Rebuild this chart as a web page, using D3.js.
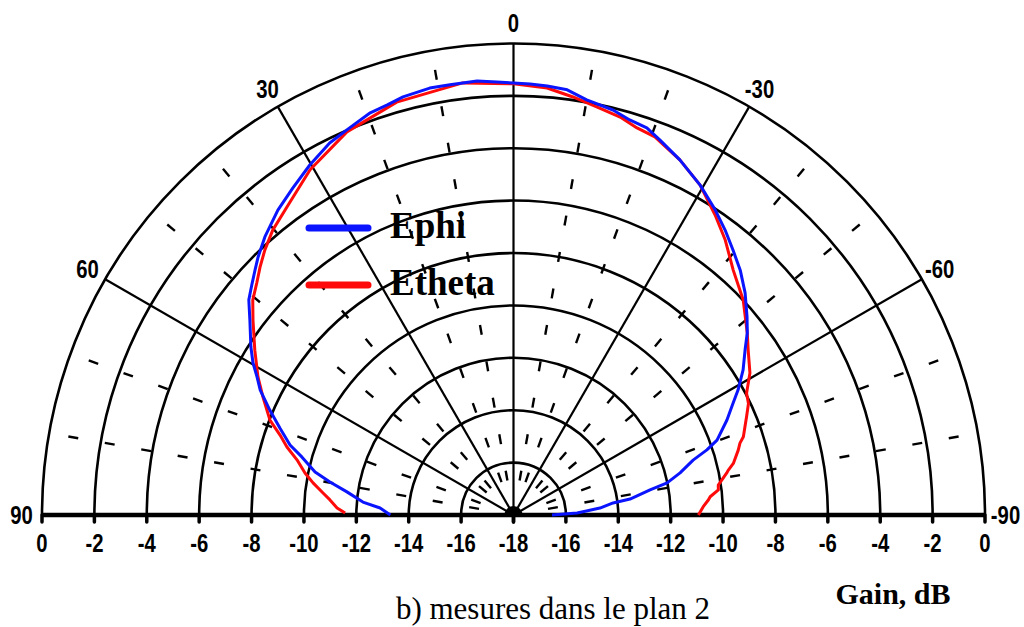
<!DOCTYPE html>
<html>
<head>
<meta charset="utf-8">
<script src="https://cdn.jsdelivr.net/npm/d3@7"></script>
<style>
  body { margin: 0; background: #fff; }
  svg { display: block; }
</style>
</head>
<body>
<svg id="chart" width="1024" height="627"></svg>
<script>
// Gain rings (dB) and radial tick labels
const ringLevels = [-16, -14, -12, -10, -8, -6, -4, -2, 0];
const gainTicks = [0, -2, -4, -6, -8, -10, -12, -14, -16, -18];
// Spokes and their angle labels (degrees, positive to the left)
const spokeAngles = [90, 60, 30, 0, -30, -60, -90];
const spokeLabels = ["90", "60", "30", "0", "-30", "-60", "-90"];
// Minor angle marks (degrees)
const minorAngles = [80, 70, 50, 40, 20, 10, -10, -20, -40, -50, -70, -80];

// Ephi measurement: angle (deg) and gain (dB)
const ephiAngle = [90, 87.0, 85.1, 82.1, 79.8, 77.8, 74.7, 72.6, 69.6, 66.7, 63.7, 61.7, 59.7, 57.4,
  53.5, 50.9, 48.7, 46.5, 44.7, 41.8, 37.7, 34.0, 30.2, 26.3, 23.4, 19.6, 17.1, 14.8, 11.1, 8.4,
  4.8, 2.2, 0, -2.2, -4.5, -7.2, -10.0, -13.8, -16.4, -19.0, -21.3, -25.1, -29.5, -33.5, -36.6,
  -39.6, -42.8, -46.2, -49.7, -52.1, -54.5, -57.7, -60.9, -63.0, -66.0, -69.8, -71.4, -73.0,
  -75.8, -78.2, -79.6, -82.2, -83.1, -85.4, -88.2, -90];
const ephiGain = [-13.3, -12.9, -12.23, -11.58, -10.88, -10.25, -9.63, -9.06, -8.49, -7.87, -7.21, -6.88, -6.48, -6.10,
  -5.48, -4.98, -4.70, -4.40, -4.14, -3.76, -3.29, -2.94, -2.54, -2.16, -1.98, -1.70, -1.62, -1.49, -1.39, -1.40,
  -1.37, -1.46, -1.51, -1.53, -1.57, -1.64, -1.91, -2.08, -2.28, -2.37, -2.63, -3.03, -3.53, -4.04, -4.45,
  -4.86, -5.26, -5.75, -6.31, -6.69, -7.14, -7.63, -8.19, -8.59, -9.08, -9.72, -10.21, -10.83,
  -11.44, -12.01, -12.70, -13.51, -14.17, -14.69, -15.57, -16.53];

// Etheta measurement: angle (deg) and gain (dB)
const ethetaAngle = [89.3, 87.7, 85.3, 83.4, 80.9, 78.6, 75.7, 73.3, 71.1, 68.7, 64.8, 61.6, 57.5, 53.2,
  50.5, 47.9, 45.6, 43.2, 40.2, 36.3, 30.5, 23.5, 15.8, 6.7, 0, -4.5, -8.1, -11.6, -15.0, -17.7,
  -20.5, -25.1, -29.5, -33.9, -37.6, -41.9, -46.9, -52.1, -54.9, -59.0, -62.4, -64.6, -67.1, -69.1,
  -71.2, -72.4, -73.9, -76.8, -78.2, -78.9, -81.7, -83.0, -84.7, -85.6, -87.5, -90];
const ethetaGain = [-11.57, -11.26, -10.97, -10.68, -10.25, -9.88, -9.47, -8.97, -8.58, -8.02, -7.43, -6.91, -6.29, -5.58,
  -5.10, -4.79, -4.46, -4.13, -3.76, -3.40, -2.70, -2.05, -1.62, -1.39, -1.54, -1.65, -1.88, -2.10, -2.27, -2.49,
  -2.59, -3.03, -3.53, -4.20, -4.75, -5.44, -5.99, -6.69, -7.05, -7.47, -7.96, -8.07, -8.34, -8.54,
  -8.73, -8.93, -9.07, -9.38, -9.62, -9.71, -10.10, -10.12, -10.46, -10.54, -10.75, -10.94];

const seriesNames = ["Ephi", "Etheta"];
const seriesColors = ["#0a14ff", "#ff0a0a"];

// ---- layout ----
const svg = d3.select("#chart");
const cx = 513.5, cy = 515, R = 471.5;
const rScale = d3.scaleLinear().domain([-18, 0]).range([0, R]);
const toRad = d => -d * Math.PI / 180;   // positive angles open to the left
const px = (deg, r) => cx + r * Math.sin(toRad(deg));
const py = (deg, r) => cy - r * Math.cos(toRad(deg));

const sans = "'Liberation Sans', Arimo, Arial, sans-serif";
const serif = "'Liberation Serif', 'Times New Roman', serif";

const grid = svg.append("g");

// minor angle marks
const markRadii = d3.range(12).map(k => R - 24.5 - 37 * k);
minorAngles.forEach(a => {
  markRadii.forEach(r => {
    grid.append("line")
      .attr("x1", px(a, r - 5)).attr("y1", py(a, r - 5))
      .attr("x2", px(a, r + 5)).attr("y2", py(a, r + 5))
      .attr("stroke", "#000").attr("stroke-width", 2.4);
  });
});

// gain rings
ringLevels.forEach(g => {
  const p = d3.path();
  p.arc(cx, cy, rScale(g), Math.PI, 2 * Math.PI);
  grid.append("path").attr("d", p.toString())
    .attr("fill", "none").attr("stroke", "#000").attr("stroke-width", 2.6);
});

// spokes
spokeAngles.filter(a => Math.abs(a) !== 90).forEach(a => {
  grid.append("line")
    .attr("x1", cx).attr("y1", cy)
    .attr("x2", px(a, R)).attr("y2", py(a, R))
    .attr("stroke", "#000").attr("stroke-width", 2.2);
});

// baseline (+90 .. -90)
grid.append("line")
  .attr("x1", cx - R).attr("y1", cy).attr("x2", cx + R).attr("y2", cy)
  .attr("stroke", "#000").attr("stroke-width", 4.5);

// ticks under baseline on both sides
gainTicks.forEach(g => {
  [-1, 1].forEach(s => {
    const x = cx + s * rScale(g);
    grid.append("line")
      .attr("x1", x).attr("y1", cy).attr("x2", x).attr("y2", cy + 7)
      .attr("stroke", "#000").attr("stroke-width", 3.5).attr("stroke-linecap", "round");
  });
});

// centre hub
const hub = d3.path();
hub.moveTo(cx - 9, cy);
hub.arc(cx, cy, 9, Math.PI, 2 * Math.PI);
hub.closePath();
grid.append("path").attr("d", hub.toString()).attr("fill", "#000");

// condensed label helper
const labels = svg.append("g")
  .attr("font-family", sans).attr("font-weight", "bold").attr("font-size", 26)
  .attr("text-anchor", "middle");
function label(x, y, txt, central) {
  const t = labels.append("text")
    .attr("transform", `translate(${x},${y}) scale(0.78,1)`)
    .text(txt);
  if (central) t.attr("dominant-baseline", "central");
}

// gain labels along the baseline
gainTicks.forEach(g => {
  const sides = g === -18 ? [0] : [-1, 1];
  sides.forEach(s => label(cx + s * rScale(g), 552, String(g), false));
});

// angle labels
spokeAngles.forEach((a, i) => label(px(a, 492), py(a, 492), spokeLabels[i], true));

// measured patterns
const line = d3.lineRadial()
  .angle(d => toRad(d[0]))
  .radius(d => rScale(d[1]))
  .curve(d3.curveLinear);

const series = [d3.zip(ephiAngle, ephiGain), d3.zip(ethetaAngle, ethetaGain)];
const plot = svg.append("g").attr("transform", `translate(${cx},${cy})`);
[1, 0].forEach(i => {   // Etheta underneath, Ephi on top
  plot.append("path")
    .attr("d", line(series[i]))
    .attr("fill", "none")
    .attr("stroke", seriesColors[i])
    .attr("stroke-width", 3)
    .attr("stroke-linejoin", "round");
});

// legend
const legend = svg.append("g");
seriesNames.forEach((name, i) => {
  const y = 228 + i * 57;
  legend.append("line")
    .attr("x1", 309).attr("x2", 368).attr("y1", y).attr("y2", y)
    .attr("stroke", seriesColors[i]).attr("stroke-width", 7).attr("stroke-linecap", "round");
  legend.append("text")
    .attr("x", 390).attr("y", y + 10)
    .attr("font-family", serif).attr("font-weight", "bold").attr("font-size", 37)
    .text(name);
});

// captions
svg.append("text")
  .attr("x", 893).attr("y", 604).attr("text-anchor", "middle")
  .attr("font-family", serif).attr("font-weight", "bold").attr("font-size", 30)
  .text("Gain, dB");
svg.append("text")
  .attr("x", 553).attr("y", 619).attr("text-anchor", "middle")
  .attr("font-family", serif).attr("font-size", 31)
  .text("b) mesures dans le plan 2");
</script>
</body>
</html>
